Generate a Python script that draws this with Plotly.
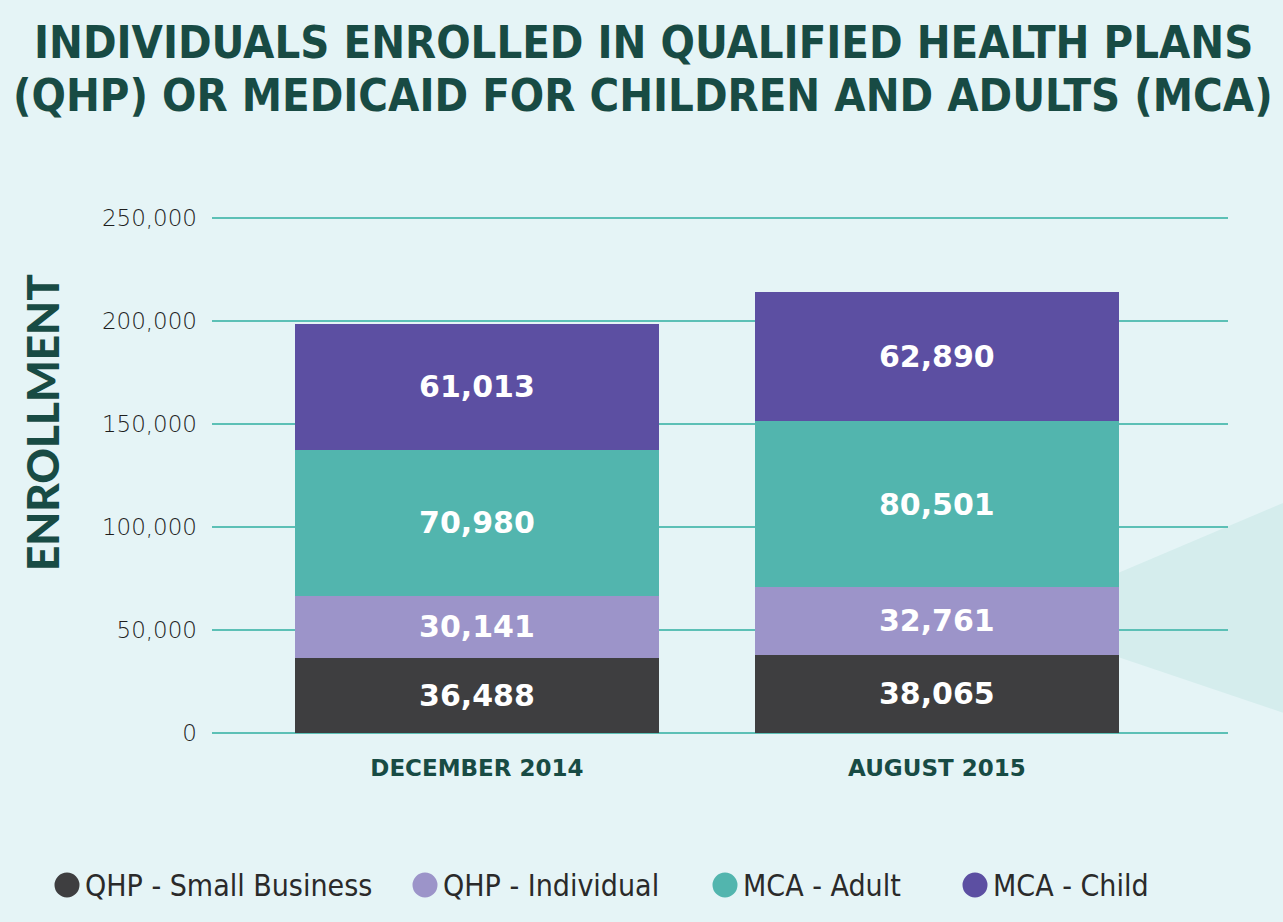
import plotly.graph_objects as go

categories = ["DECEMBER 2014", "AUGUST 2015"]
series_names = ["QHP - Small Business", "QHP - Individual", "MCA - Adult", "MCA - Child"]
qhp_small_business = [36488, 38065]
qhp_individual = [30141, 32761]
mca_adult = [70980, 80501]
mca_child = [61013, 62890]
y_ticks = [0, 50000, 100000, 150000, 200000, 250000]
y_tick_labels = ["0", "50,000", "100,000", "150,000", "200,000", "250,000"]

colors = ["#3e3e40", "#9c94c9", "#52b5ae", "#5c4fa2"]
series_values = [qhp_small_business, qhp_individual, mca_adult, mca_child]

BG = "#e5f4f6"
DARK = "#184b44"
GRID = "#5cc0b6"

W, H = 1283, 922
ML, MR, MT, MB = 212, 55, 216, 189
PW, PH = W - ML - MR, H - MT - MB


def px_x(px):
    return (px - ML) / PW


def px_y(py):
    return (H - MB - py) / PH


fig = go.Figure()
xpos = list(range(len(categories)))
for name, vals, col in zip(series_names, series_values, colors):
    fig.add_trace(go.Bar(
        x=xpos, y=vals, name=name, marker=dict(color=col, line=dict(width=0)),
        width=0.793, text=[f"{v:,}" for v in vals], textposition="inside",
        insidetextanchor="middle", textangle=0,
        textfont=dict(family="DejaVu Sans", size=30, color="white", weight="bold"),
        showlegend=False, hoverinfo="skip"))

title_lines = ["INDIVIDUALS ENROLLED IN QUALIFIED HEALTH PLANS",
               "(QHP) OR MEDICAID FOR CHILDREN AND ADULTS (MCA)"]

annotations = [dict(
    text="ENROLLMENT", xref="paper", yref="paper", x=px_x(42), y=px_y(423),
    xanchor="center", yanchor="middle", textangle=-90, showarrow=False,
    font=dict(family="Lato", size=44, color=DARK, weight=900))]
for line, ypx in zip(title_lines, [43, 96]):
    annotations.append(dict(
        text=line, xref="paper", yref="paper", x=px_x(643), y=px_y(ypx),
        xanchor="center", yanchor="middle", showarrow=False,
        font=dict(family="DejaVu Sans Condensed", size=45, color=DARK, weight="bold")))

shapes = [dict(
    type="path", xref="paper", yref="paper", layer="below",
    path=(f"M {px_x(1118)} {px_y(573)} L {px_x(1290)} {px_y(500)} "
          f"L {px_x(1290)} {px_y(715)} L {px_x(1118)} {px_y(657)} Z"),
    fillcolor="#d5eded", line=dict(width=0))]

# legend (circle swatch + label) laid out like the original
legend_dot_px = [67, 425, 725, 975]
legend_y_px = 885
r = 12.5
for name, col, cx in zip(series_names, colors, legend_dot_px):
    shapes.append(dict(
        type="circle", xref="paper", yref="paper",
        x0=px_x(cx - r), x1=px_x(cx + r), y0=px_y(legend_y_px + r), y1=px_y(legend_y_px - r),
        fillcolor=col, line=dict(width=0)))
    annotations.append(dict(
        text=name, xref="paper", yref="paper", x=px_x(cx + r + 3), y=px_y(legend_y_px),
        xanchor="left", yanchor="middle", showarrow=False,
        font=dict(family="DejaVu Sans Condensed", size=30, color="#2a2a2a")))

fig.update_layout(
    barmode="stack",
    width=W, height=H,
    paper_bgcolor=BG, plot_bgcolor="rgba(0,0,0,0)",
    margin=dict(l=ML, r=MR, t=MT, b=MB),
    showlegend=False,
    xaxis=dict(
        tickmode="array", tickvals=xpos, ticktext=categories,
        range=[-0.576, 1.633], showgrid=False, zeroline=False, showline=False,
        ticks="", ticklabelstandoff=19,
        tickfont=dict(family="DejaVu Sans", size=23, color=DARK, weight="bold")),
    yaxis=dict(
        range=[0, 251000], tickmode="array", tickvals=y_ticks, ticktext=y_tick_labels,
        showgrid=True, gridcolor=GRID, gridwidth=2, zeroline=True, zerolinecolor=GRID,
        zerolinewidth=2, showline=False, ticks="", ticklabelstandoff=14,
        tickfont=dict(family="DejaVu Sans", size=23, color="#1e1e1e", weight=200)),
    shapes=shapes,
    annotations=annotations,
)

fig.write_html("out.html", config={"displayModeBar": False},
               post_script="document.body.style.margin='0';")
